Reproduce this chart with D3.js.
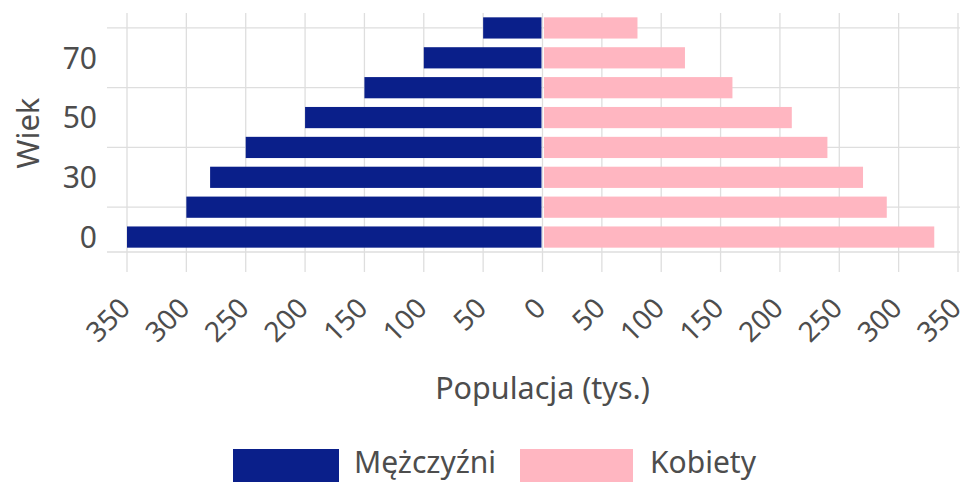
<!DOCTYPE html>
<html>
<head>
<meta charset="utf-8">
<script src="https://cdn.jsdelivr.net/npm/d3@7"></script>
<style>
  body { margin: 0; background: #fff; }
  svg { display: block; font-family: "Noto Sans", sans-serif; }
</style>
</head>
<body>
<svg id="chart" width="968" height="482"></svg>
<script>
// age groups bottom -> top
const ageGroups = ['0', '20', '30', '40', '50', '60', '70', '80'];
const ageLabels = ['0', '30', '50', '70'];
const ageTicks = ['20', '40', '60', '80'];
const men = [350, 300, 280, 250, 200, 150, 100, 50];
const women = [330, 290, 270, 240, 210, 160, 120, 80];
const xTicks = [-350, -300, -250, -200, -150, -100, -50, 0, 50, 100, 150, 200, 250, 300, 350];
const seriesNames = ['Mężczyźni', 'Kobiety'];
const seriesColors = ['#0a1f8a', '#ffb6c1'];

const svg = d3.select('#chart');
const margin = { top: 13, right: 10, bottom: 230, left: 127 };
const width = 968 - margin.left - margin.right;
const height = 482 - margin.top - margin.bottom;
const grid = '#dedede';
const textCol = '#4d4d4d';

const g = svg.append('g').attr('transform', `translate(${margin.left},${margin.top})`);

const x = d3.scaleLinear().domain([-350, 350]).range([0, width]);
const y = d3.scaleBand().domain(ageGroups).range([height, 0]).paddingInner(0.29).paddingOuter(0.145);

// vertical grid + ticks
g.selectAll('.vgrid')
  .data(xTicks)
  .enter().append('line')
  .attr('x1', d => x(d)).attr('x2', d => x(d))
  .attr('y1', 0).attr('y2', height + 20)
  .attr('stroke', grid).attr('stroke-width', 1.3);

// horizontal grid + ticks
g.selectAll('.hgrid')
  .data(ageTicks)
  .enter().append('line')
  .attr('x1', -20).attr('x2', width + 2)
  .attr('y1', d => y(d) + y.bandwidth() / 2).attr('y2', d => y(d) + y.bandwidth() / 2)
  .attr('stroke', grid).attr('stroke-width', 1.3);

// x axis line
g.append('line')
  .attr('x1', -20).attr('x2', width + 2)
  .attr('y1', height).attr('y2', height)
  .attr('stroke', grid).attr('stroke-width', 1.3);

// bars
g.selectAll('.men')
  .data(ageGroups)
  .enter().append('rect')
  .attr('x', (d, i) => x(-men[i]))
  .attr('y', d => y(d))
  .attr('width', (d, i) => x(0) - x(-men[i]) - 1)
  .attr('height', y.bandwidth())
  .attr('fill', seriesColors[0]);

g.selectAll('.women')
  .data(ageGroups)
  .enter().append('rect')
  .attr('x', x(0) + 1.5)
  .attr('y', d => y(d))
  .attr('width', (d, i) => x(women[i]) - x(0) - 1.5)
  .attr('height', y.bandwidth())
  .attr('fill', seriesColors[1]);

// y labels
g.selectAll('.ylab')
  .data(ageLabels)
  .enter().append('text')
  .attr('x', -30)
  .attr('y', d => y(d) + y.bandwidth() / 2)
  .attr('dy', '0.36em')
  .attr('text-anchor', 'end')
  .attr('fill', textCol)
  .style('font-size', '30px')
  .text(d => d);

// x labels, rotated
g.selectAll('.xlab')
  .data(xTicks)
  .enter().append('text')
  .attr('transform', d => `translate(${x(d) - 9},${height + 44}) rotate(-45)`)
  .attr('text-anchor', 'end')
  .attr('dy', '0.7em')
  .attr('fill', textCol)
  .style('font-size', '28px')
  .text(d => Math.abs(d));

// axis titles
svg.append('text')
  .attr('x', margin.left + x(0))
  .attr('y', 399)
  .attr('text-anchor', 'middle')
  .attr('fill', textCol)
  .style('font-size', '30.5px')
  .text('Populacja (tys.)');

svg.append('text')
  .attr('transform', 'translate(39,133) rotate(-90)')
  .attr('text-anchor', 'middle')
  .attr('fill', textCol)
  .style('font-size', '31px')
  .text('Wiek');

// legend
const legendX = [233, 520];
const legend = svg.selectAll('.legend')
  .data(seriesNames)
  .enter().append('g')
  .attr('transform', (d, i) => `translate(${legendX[i]},449)`);

legend.append('rect')
  .attr('width', (d, i) => i === 0 ? 106 : 113)
  .attr('height', 34)
  .attr('fill', (d, i) => seriesColors[i]);

legend.append('text')
  .attr('x', (d, i) => i === 0 ? 121 : 130)
  .attr('y', 24)
  .attr('fill', textCol)
  .style('font-size', '30px')
  .text(d => d);
</script>
</body>
</html>
